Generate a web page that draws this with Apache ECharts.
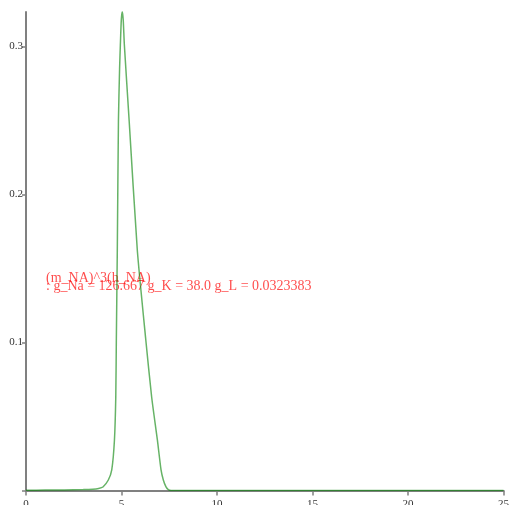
<!DOCTYPE html>
<html>
<head>
<meta charset="utf-8">
<script src="https://cdn.jsdelivr.net/npm/echarts@6/dist/echarts.min.js"></script>
<style>
  html, body { margin: 0; padding: 0; background: #fff; }
  #chart { width: 509px; height: 505px; }
</style>
</head>
<body>
<div id="chart"></div>
<script>
// curve: time (x) and value (y)
var timeValues = [0, 1, 2, 3, 3.5, 3.8, 4.03, 4.31, 4.49, 4.63, 4.7, 4.73, 4.78, 4.84, 4.9, 4.94, 4.99, 5.04,
  5.09, 5.15, 5.4, 5.83, 6.27, 6.58, 6.88, 7.07, 7.19, 7.33, 7.45, 7.6, 8, 10, 15, 20, 25];
var currentValues = [0.0002, 0.0003, 0.0004, 0.0006, 0.0009, 0.0014, 0.0024, 0.0071, 0.0139, 0.034, 0.063, 0.102, 0.162, 0.25, 0.285, 0.301, 0.318, 0.3235,
  0.318, 0.301, 0.25, 0.162, 0.102, 0.063, 0.034, 0.0139, 0.0071, 0.0024, 0.0006, 0, 0, 0, 0, 0, 0];

var xTicks = [0, 5, 10, 15, 20, 25];
var yTicks = [0.1, 0.2, 0.3];

var labelLine1 = "(m_NA)^3(h_NA)";
var labelLine2 = ": g_Na = 126.667 g_K = 38.0 g_L = 0.0323383";

var chartDom = document.getElementById("chart");
var myChart = echarts.init(chartDom);

var points = timeValues.map(function (t, i) {
  return [t, currentValues[i]];
});

var option = {
  animation: false,
  grid: {
    left: 26,
    right: 5.5,
    top: 12,
    bottom: 14.5,
    containLabel: false,
    outerBoundsMode: "none",
  },
  xAxis: {
    type: "value",
    min: 0,
    max: 25,
    interval: 5,
    axisLine: { lineStyle: { color: "#808080", width: 2 } },
    axisTick: { show: true, length: 5, lineStyle: { color: "#808080", width: 1.5 } },
    axisLabel: {
      color: "#333",
      fontFamily: "Liberation Serif",
      fontSize: 11,
      margin: 8,
      hideOverlap: false,
      formatter: function (v) {
        return xTicks.indexOf(v) >= 0 ? String(v) : "";
      },
    },
    splitLine: { show: false },
  },
  yAxis: {
    type: "value",
    min: 0,
    max: 0.3233,
    interval: 0.1,
    axisLine: { show: true, lineStyle: { color: "#808080", width: 2 } },
    axisTick: { show: true, length: 4, lineStyle: { color: "#808080", width: 1.5 } },
    axisLabel: {
      color: "#333",
      fontFamily: "Liberation Serif",
      fontSize: 11,
      margin: 3,
      showMaxLabel: false,
      formatter: function (v) {
        var r = Math.round(v * 10) / 10;
        return yTicks.indexOf(r) >= 0 && Math.abs(v - r) < 1e-6 ? r.toFixed(1) : "";
      },
    },
    splitLine: { show: false },
  },
  graphic: [
    {
      type: "text",
      left: 46,
      top: 271,
      style: {
        text: labelLine1,
        fill: "rgba(255,0,0,0.7)",
        font: "14px 'Liberation Serif'",
      },
    },
    {
      type: "text",
      left: 46,
      top: 279,
      style: {
        text: labelLine2,
        fill: "rgba(255,0,0,0.7)",
        font: "14px 'Liberation Serif'",
      },
    },
  ],
  series: [
    {
      type: "line",
      data: points,
      smooth: 0.2,
      showSymbol: false,
      lineStyle: { color: "rgba(0,128,0,0.6)", width: 1.5 },
      z: 3,
    },
  ],
};

myChart.setOption(option);
</script>
</body>
</html>
